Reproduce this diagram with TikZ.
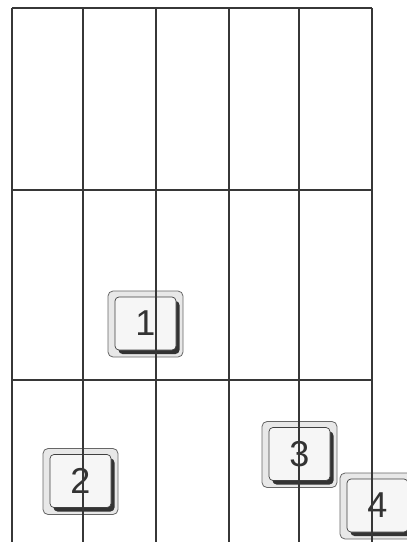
\documentclass[tikz,border=0pt]{standalone}
\usepackage{fontspec}
\setsansfont{Liberation Sans}
\usetikzlibrary{positioning, calc}
\usepackage{xcolor}
\definecolor{gridink}{RGB}{55, 55, 55}
\definecolor{keyface}{RGB}{246, 246, 246}
\definecolor{keyrim}{RGB}{232, 232, 232}
\tikzset{
  keyouter/.style={
    rectangle, rounded corners=5pt,
    draw=black!60, fill=keyrim, line width=0.8pt,
    minimum width=75pt, minimum height=66pt, inner sep=0pt
  },
  keyshadow/.style={
    rectangle, rounded corners=4pt,
    fill=black!80, draw=none,
    minimum width=61pt, minimum height=53pt, inner sep=0pt
  },
  keyinner/.style={
    rectangle, rounded corners=4pt,
    draw=black!75, fill=keyface, line width=0.7pt,
    minimum width=61pt, minimum height=53pt, inner sep=0pt,
    font=\sffamily\fontsize{36}{36}\selectfont, text=black!80
  },
  gridline/.style={draw=gridink, line width=2pt},
}

\begin{document}
\begin{tikzpicture}[x=1pt, y=-1pt]
    \clip (0,0) rectangle (407,542);
    \fill[white] (0,0) rectangle (407,542);

    % keys
    \node[keyouter] (k1) at (145.5,324) {};
    \node[keyshadow] at ($(k1)+(3.5,3.5)$) {};
    \node[keyinner] (t1) at ($(k1)+(0,-0.5)$) {1};

    \node[keyouter] (k2) at (80.5,481.5) {};
    \node[keyshadow] at ($(k2)+(3.5,3.5)$) {};
    \node[keyinner] (t2) at ($(k2)+(0,-0.5)$) {2};

    \node[keyouter] (k3) at (299.5,454.5) {};
    \node[keyshadow] at ($(k3)+(3.5,3.5)$) {};
    \node[keyinner] (t3) at ($(k3)+(0,-0.5)$) {3};

    \node[keyouter] (k4) at (377.5,506) {};
    \node[keyshadow] at ($(k4)+(3.5,3.5)$) {};
    \node[keyinner] (t4) at ($(k4)+(0,-0.5)$) {4};

    % grid over the keys
    \foreach \gx in {12, 83, 156, 229, 299, 372}
      \draw[gridline] (\gx,8) -- (\gx,542);
    \foreach \gy in {8, 190, 380}
      \draw[gridline] (12,\gy) -- (372,\gy);
\end{tikzpicture}
\end{document}
